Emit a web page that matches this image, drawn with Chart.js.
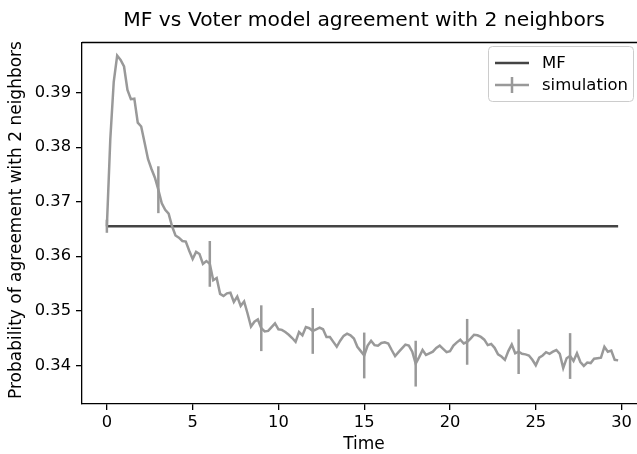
<!DOCTYPE html>
<html>
<head>
<meta charset="utf-8">
<script src="https://cdn.jsdelivr.net/npm/chart.js@4.4.0/dist/chart.umd.min.js"></script>
<style>
  html, body { margin: 0; padding: 0; background: #fff; overflow: hidden; }
</style>
</head>
<body>
<canvas id="chart" width="637" height="454"></canvas>
<script>
// values
const simTimes = [
  0.0, 0.2, 0.4, 0.6, 0.8, 1.0, 1.2, 1.4, 1.6, 1.8,
  2.0, 2.2, 2.4, 2.6, 2.8, 3.0, 3.2, 3.4, 3.6, 3.8,
  4.0, 4.2, 4.4, 4.6, 4.8, 5.0, 5.2, 5.4, 5.6, 5.8,
  6.0, 6.2, 6.4, 6.6, 6.8, 7.0, 7.2, 7.4, 7.6, 7.8,
  8.0, 8.2, 8.4, 8.6, 8.8, 9.0, 9.2, 9.4, 9.6, 9.8,
  10.0, 10.2, 10.4, 10.6, 10.8, 11.0, 11.2, 11.4, 11.6, 11.8,
  12.0, 12.2, 12.4, 12.6, 12.8, 13.0, 13.2, 13.4, 13.6, 13.8,
  14.0, 14.2, 14.4, 14.6, 14.8, 15.0, 15.2, 15.4, 15.6, 15.8,
  16.0, 16.2, 16.4, 16.6, 16.8, 17.0, 17.2, 17.4, 17.6, 17.8,
  18.0, 18.2, 18.4, 18.6, 18.8, 19.0, 19.2, 19.4, 19.6, 19.8,
  20.0, 20.2, 20.4, 20.6, 20.8, 21.0, 21.2, 21.4, 21.6, 21.8,
  22.0, 22.2, 22.4, 22.6, 22.8, 23.0, 23.2, 23.4, 23.6, 23.8,
  24.0, 24.2, 24.4, 24.6, 24.8, 25.0, 25.2, 25.4, 25.6, 25.8,
  26.0, 26.2, 26.4, 26.6, 26.8, 27.0, 27.2, 27.4, 27.6, 27.8,
  28.0, 28.2, 28.4, 28.6, 28.8, 29.0, 29.2, 29.4, 29.6, 29.8
];
const simValues = [
  0.3655, 0.3815, 0.3920, 0.3968, 0.3960, 0.3948, 0.3905, 0.3888, 0.3889, 0.3845,
  0.3838, 0.3808, 0.3778, 0.3760, 0.3744, 0.3722, 0.3697, 0.3685, 0.3678, 0.3655,
  0.3638, 0.3634, 0.3628, 0.3627, 0.3610, 0.3595, 0.3608, 0.3604, 0.3586, 0.3591,
  0.3586, 0.3556, 0.3560, 0.3531, 0.3527, 0.3532, 0.3533, 0.3516, 0.3526, 0.3509,
  0.3517, 0.3495, 0.3471, 0.3480, 0.3484, 0.3468, 0.3462, 0.3463, 0.3470, 0.3477,
  0.3466, 0.3465, 0.3461, 0.3456, 0.3450, 0.3443, 0.3461, 0.3455, 0.3470, 0.3468,
  0.3463, 0.3466, 0.3469, 0.3466, 0.3452, 0.3452, 0.3443, 0.3434, 0.3445, 0.3454,
  0.3458, 0.3455, 0.3449, 0.3434, 0.3426, 0.3418, 0.3436, 0.3445, 0.3437, 0.3436,
  0.3441, 0.3442, 0.3440, 0.3428, 0.3417, 0.3424, 0.3431, 0.3438, 0.3436, 0.3425,
  0.3403, 0.3415, 0.3428, 0.3419, 0.3422, 0.3425, 0.3432, 0.3436, 0.3430, 0.3424,
  0.3426, 0.3436, 0.3442, 0.3447, 0.3440, 0.3443, 0.3449, 0.3456, 0.3455, 0.3452,
  0.3447, 0.3437, 0.3439, 0.3432, 0.3420, 0.3416, 0.3410, 0.3426, 0.3438, 0.3422,
  0.3425, 0.3421, 0.3420, 0.3418, 0.3410, 0.3400, 0.3414, 0.3418, 0.3424, 0.3421,
  0.3425, 0.3428, 0.3421, 0.3395, 0.3413, 0.3417, 0.3408, 0.3422, 0.3406, 0.3399,
  0.3405, 0.3404, 0.3412, 0.3413, 0.3414, 0.3434, 0.3425, 0.3427, 0.3410, 0.3409
];
const errTimes = [0, 3, 6, 9, 12, 15, 18, 21, 24, 27];
const errHalf = [0.0012, 0.0043, 0.0042, 0.0042, 0.0042, 0.0042, 0.0042, 0.0042, 0.0041, 0.0042];

const mfTimes = [0.0, 29.8];
const mfValues = [0.3655, 0.3655];

const xTicks = [0, 5, 10, 15, 20, 25, 30];
const yTicks = [0.34, 0.35, 0.36, 0.37, 0.38, 0.39];

const titleText = 'MF vs Voter model agreement with 2 neighbors';
const xLabel = 'Time';
const yLabel = 'Probability of agreement with 2 neighbors';
const legendLabels = ['MF', 'simulation'];

const MF_COLOR = '#444444';
const SIM_COLOR = '#999999';
const FONT = '"DejaVu Sans", sans-serif';

const toPoints = (xs, ys) => xs.map((x, i) => ({ x: x, y: ys[i] }));

// error bars, top spine, titles and legend
const extras = {
    id: 'extras',
    afterDatasetsDraw(chart) {
        const ctx = chart.ctx;
        const xs = chart.scales.x, ys = chart.scales.y;
        ctx.save();
        ctx.strokeStyle = SIM_COLOR;
        ctx.lineWidth = 2.5;
        errTimes.forEach((t, k) => {
            const i = simTimes.indexOf(t);
            if (i < 0) return;
            const v = simValues[i];
            const px = xs.getPixelForValue(t);
            ctx.beginPath();
            ctx.moveTo(px, ys.getPixelForValue(v - errHalf[k]));
            ctx.lineTo(px, ys.getPixelForValue(v + errHalf[k]));
            ctx.stroke();
        });
        ctx.restore();
    },
    afterDraw(chart) {
        const ctx = chart.ctx;
        const a = chart.chartArea;
        ctx.save();
        // top spine (the right one is cropped off in the original)
        ctx.strokeStyle = '#000';
        ctx.lineWidth = 1.3;
        ctx.beginPath();
        ctx.moveTo(a.left, a.top);
        ctx.lineTo(chart.width, a.top);
        ctx.stroke();

        ctx.fillStyle = '#000';
        ctx.textAlign = 'center';
        ctx.textBaseline = 'middle';
        ctx.font = '20.3px ' + FONT;
        ctx.fillText(titleText, 364, 20.5);

        ctx.font = '17px ' + FONT;
        ctx.fillText(xLabel, 364, 445);

        ctx.save();
        ctx.translate(17, 220);
        ctx.rotate(-Math.PI / 2);
        ctx.fillText(yLabel, 0, 0);
        ctx.restore();

        // legend
        const bx = 488, by = 46, bw = 145, bh = 55, r = 4;
        ctx.fillStyle = 'rgba(255,255,255,0.8)';
        ctx.strokeStyle = '#cccccc';
        ctx.lineWidth = 1;
        ctx.beginPath();
        ctx.roundRect(bx + 0.5, by + 0.5, bw, bh, r);
        ctx.fill();
        ctx.stroke();

        const rows = [63, 85];
        ctx.lineWidth = 2.5;
        ctx.strokeStyle = MF_COLOR;
        ctx.beginPath();
        ctx.moveTo(495, rows[0]);
        ctx.lineTo(529, rows[0]);
        ctx.stroke();
        ctx.strokeStyle = SIM_COLOR;
        ctx.beginPath();
        ctx.moveTo(495, rows[1]);
        ctx.lineTo(529, rows[1]);
        ctx.moveTo(512, rows[1] - 8);
        ctx.lineTo(512, rows[1] + 8);
        ctx.stroke();

        ctx.fillStyle = '#000';
        ctx.textAlign = 'left';
        ctx.font = '16.5px ' + FONT;
        legendLabels.forEach((s, i) => ctx.fillText(s, 542, rows[i] + 1));
        ctx.restore();
    }
};

new Chart(document.getElementById('chart'), {
    type: 'line',
    data: {
        datasets: [
            {
                label: legendLabels[1],
                data: toPoints(simTimes, simValues),
                borderColor: SIM_COLOR,
                borderWidth: 2.5,
                pointRadius: 0,
                tension: 0,
                order: 0
            },
            {
                label: legendLabels[0],
                data: toPoints(mfTimes, mfValues),
                borderColor: MF_COLOR,
                borderWidth: 2.5,
                pointRadius: 0,
                tension: 0,
                order: 1
            }
        ]
    },
    options: {
        responsive: false,
        animation: false,
        events: [],
        // plot area runs past the right edge, like the cropped original
        layout: { padding: { top: 42.5, right: -9, left: 0, bottom: 0 } },
        plugins: { legend: { display: false }, tooltip: { enabled: false }, title: { display: false } },
        scales: {
            x: {
                type: 'linear',
                min: -1.45,
                max: 30.9,
                afterBuildTicks: (s) => { s.ticks = xTicks.map(v => ({ value: v })); },
                afterFit: (s) => { s.height = 50; },
                grid: { drawOnChartArea: false, drawTicks: true, tickLength: 6, color: '#000', lineWidth: 1.3 },
                border: { display: true, color: '#000', width: 1.3 },
                ticks: { font: { family: FONT, size: 16.3 }, color: '#000', padding: 3, maxRotation: 0 }
            },
            y: {
                type: 'linear',
                min: 0.3329,
                max: 0.3992,
                afterBuildTicks: (s) => { s.ticks = yTicks.map(v => ({ value: v })); },
                afterFit: (s) => { s.width = 82; },
                grid: { drawOnChartArea: false, drawTicks: true, tickLength: 6, color: '#000', lineWidth: 1.3 },
                border: { display: true, color: '#000', width: 1.3 },
                ticks: {
                    font: { family: FONT, size: 16.3 }, color: '#000', padding: 5,
                    callback: (v) => v.toFixed(2)
                }
            }
        }
    },
    plugins: [extras]
});
</script>
</body>
</html>
